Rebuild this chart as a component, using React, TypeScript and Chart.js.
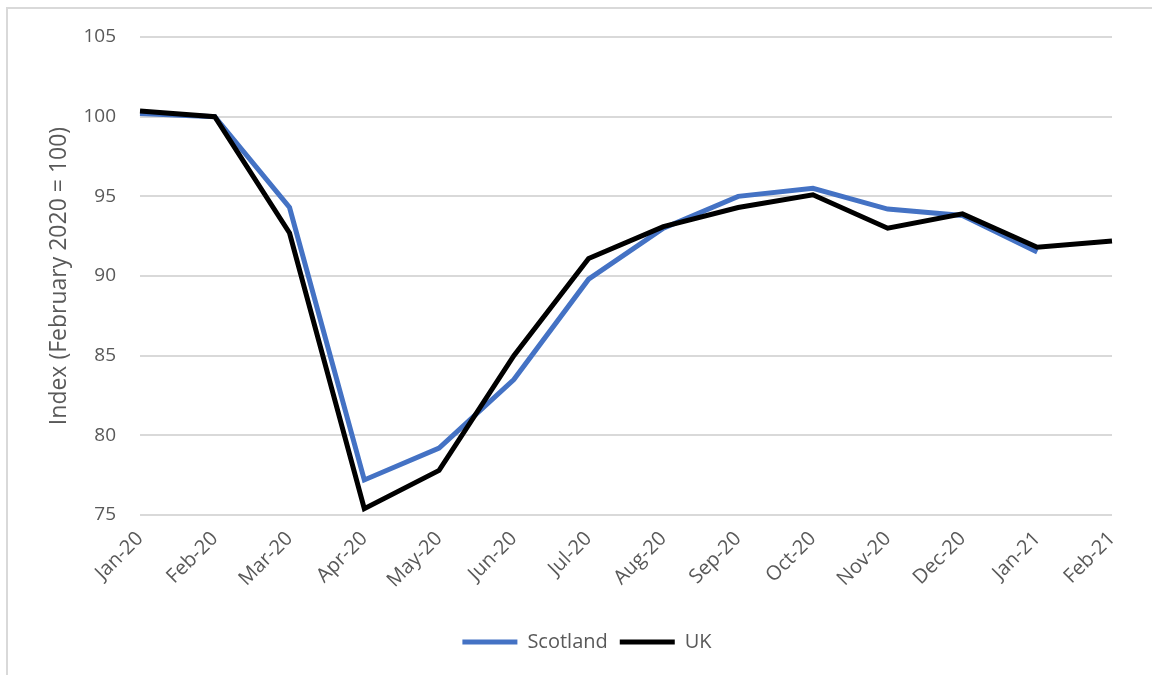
import React, { useEffect, useRef } from "react";
import { Chart, registerables } from "chart.js";

Chart.register(...registerables);

const months = [
  "Jan-20", "Feb-20", "Mar-20", "Apr-20", "May-20", "Jun-20", "Jul-20",
  "Aug-20", "Sep-20", "Oct-20", "Nov-20", "Dec-20", "Jan-21", "Feb-21",
];
const scotland: (number | null)[] = [100.2, 100.0, 94.3, 77.2, 79.2, 83.5, 89.8, 93.0, 95.0, 95.5, 94.2, 93.8, 91.5, null];
const uk: number[] = [100.35, 100.0, 92.7, 75.4, 77.8, 85.0, 91.1, 93.1, 94.3, 95.1, 93.0, 93.9, 91.8, 92.2];
const yMin = 75;
const yMax = 105;
const yStep = 5;
const yTitle = "Index (February 2020 = 100)";

const FONT = "'Open Sans', sans-serif";
const GRAY = "#595959";

const legendShift = {
  id: "legendShift",
  afterLayout(chart: any) {
    const lg = chart.legend;
    if (lg) {
      lg.left += 31;
      lg.right += 31;
    }
  },
};

export default function App() {
  const ref = useRef<HTMLCanvasElement | null>(null);

  useEffect(() => {
    if (!ref.current) return;
    const chart = new Chart(ref.current, {
      type: "line",
      data: {
        labels: months,
        datasets: [
          {
            label: "Scotland",
            data: scotland,
            borderColor: "#4472C4",
            backgroundColor: "#4472C4",
            borderWidth: 5,
            pointRadius: 0,
            tension: 0,
            order: 1,
          },
          {
            label: "UK",
            data: uk,
            borderColor: "#000000",
            backgroundColor: "#000000",
            borderWidth: 5,
            pointRadius: 0,
            tension: 0,
            order: 0,
          },
        ],
      },
      plugins: [legendShift],
      options: {
        responsive: false,
        animation: false,
        layout: { padding: { left: 0, right: 40, top: 37, bottom: 13 } },
        plugins: {
          tooltip: { enabled: false },
          legend: {
            position: "bottom",
            labels: {
              font: { family: FONT, size: 20 },
              color: GRAY,
              boxWidth: 55,
              boxHeight: 5,
              padding: 12,
              sort: (a: any, b: any) => a.datasetIndex - b.datasetIndex,
              generateLabels: (c: any) =>
                Chart.defaults.plugins.legend.labels.generateLabels(c).map((it: any) => ({
                  ...it,
                  lineWidth: 0,
                })),
            },
          },
        },
        scales: {
          x: {
            grid: { display: false },
            border: { display: false },
            ticks: {
              font: { family: FONT, size: 20 },
              color: GRAY,
              maxRotation: 45,
              minRotation: 45,
              padding: 4,
              autoSkip: false,
            },
            afterFit: (s: any) => {
              s.height = 105;
            },
          },
          y: {
            min: yMin,
            max: yMax,
            grid: { color: "#d9d9d9", lineWidth: 2, drawTicks: false },
            border: { display: false },
            ticks: {
              stepSize: yStep,
              font: { family: FONT, size: 19 },
              color: GRAY,
              padding: 24,
            },
            title: {
              display: true,
              text: yTitle,
              font: { family: FONT, size: 23 },
              color: GRAY,
              padding: { top: 46, bottom: 0 },
            },
            afterFit: (s: any) => {
              s.width = 140;
            },
          },
        },
      },
    });
    return () => chart.destroy();
  }, []);

  return (
    <div style={{ position: "absolute", left: 0, top: 0, width: 1152, height: 675, background: "#fff", overflow: "hidden" }}>
      <div
        style={{
          position: "absolute",
          left: 6,
          top: 7,
          right: -10,
          bottom: -10,
          borderLeft: "2px solid #d9d9d9",
          borderTop: "2px solid #d9d9d9",
        }}
      />
      <canvas ref={ref} width={1152} height={675} style={{ position: "absolute", left: 0, top: 0 }} />
    </div>
  );
}
